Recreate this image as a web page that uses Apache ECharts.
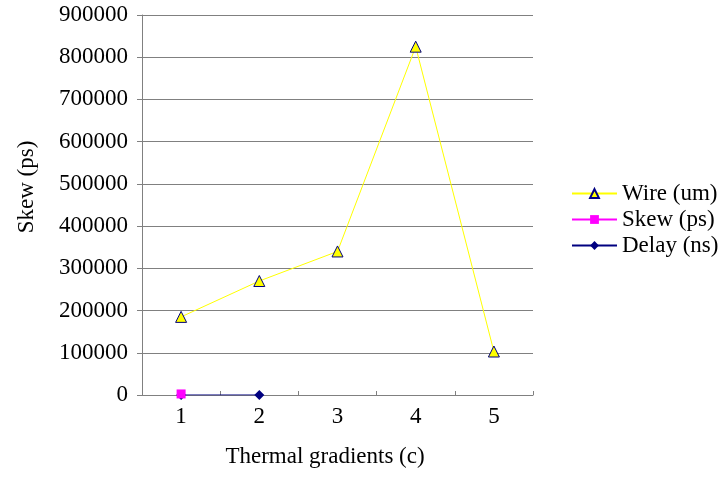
<!DOCTYPE html>
<html>
<head>
<meta charset="utf-8">
<script src="https://cdn.jsdelivr.net/npm/echarts@6/dist/echarts.min.js"></script>
<style>
  html, body { margin: 0; padding: 0; background: #fff; }
  #chart { width: 727px; height: 478px; }
</style>
</head>
<body>
<div id="chart"></div>
<script>
// values
var categories = ['1', '2', '3', '4', '5'];
var wireData = [185000, 270000, 340000, 825000, 103000];
var skewData = [2500, null, null, null, null];
var delayData = [5, 6, null, null, null];

var fontName = 'Liberation Serif';

var chartOption = {
    backgroundColor: '#fff',
    animation: false,
    textStyle: { fontFamily: fontName },
    grid: {
        left: 142,
        right: 194,
        top: 15,
        bottom: 83
    },
    legend: {
        orient: 'vertical',
        left: 571,
        top: 182,
        padding: 0,
        itemWidth: 45,
        itemHeight: 11,
        itemGap: 3,
        textStyle: {
            color: '#000',
            fontFamily: fontName,
            fontSize: 23
        },
        data: ['Wire (um)', 'Skew (ps)', 'Delay (ns)']
    },
    xAxis: {
        type: 'category',
        data: categories,
        boundaryGap: true,
        name: 'Thermal gradients (c)',
        nameLocation: 'middle',
        nameGap: 50,
        nameTextStyle: { color: '#000', fontSize: 23, fontFamily: fontName, padding: [0, 25, 0, 0] },
        axisLine: { lineStyle: { color: '#808080', width: 1 } },
        axisTick: { show: true, inside: true, length: 4, lineStyle: { color: '#808080' } },
        axisLabel: { color: '#000', fontSize: 23, fontFamily: fontName, margin: 10 },
        splitLine: { show: false }
    },
    yAxis: {
        type: 'value',
        min: 0,
        max: 900000,
        interval: 100000,
        name: 'Skew (ps)',
        nameLocation: 'middle',
        nameGap: 104,
        nameTextStyle: { color: '#000', fontSize: 23, fontFamily: fontName, padding: [0, 0, 0, 36] },
        axisLine: { show: true, lineStyle: { color: '#808080', width: 1 } },
        axisTick: { show: true, length: 5, lineStyle: { color: '#808080' } },
        axisLabel: {
            color: '#000', fontSize: 23, fontFamily: fontName, margin: 14,
            formatter: function (v) { return String(v); }
        },
        splitLine: { lineStyle: { color: '#808080', width: 1 } }
    },
    series: [
        {
            name: 'Wire (um)',
            type: 'line',
            data: wireData,
            symbol: 'triangle',
            symbolSize: 11,
            lineStyle: { color: '#ffff00', width: 1 },
            itemStyle: { color: '#ffff00', borderColor: '#000080', borderWidth: 1 },
            z: 3
        },
        {
            name: 'Delay (ns)',
            type: 'line',
            data: delayData,
            symbol: 'diamond',
            symbolSize: 10,
            lineStyle: { color: '#000080', width: 1 },
            itemStyle: { color: '#000080' },
            z: 4
        },
        {
            name: 'Skew (ps)',
            type: 'line',
            data: skewData,
            symbol: 'rect',
            symbolSize: 9,
            lineStyle: { color: '#ff00ff', width: 1 },
            itemStyle: { color: '#ff00ff' },
            z: 5
        }
    ]
};

var myChart = echarts.init(document.getElementById('chart'));
myChart.setOption(chartOption);
</script>
</body>
</html>
